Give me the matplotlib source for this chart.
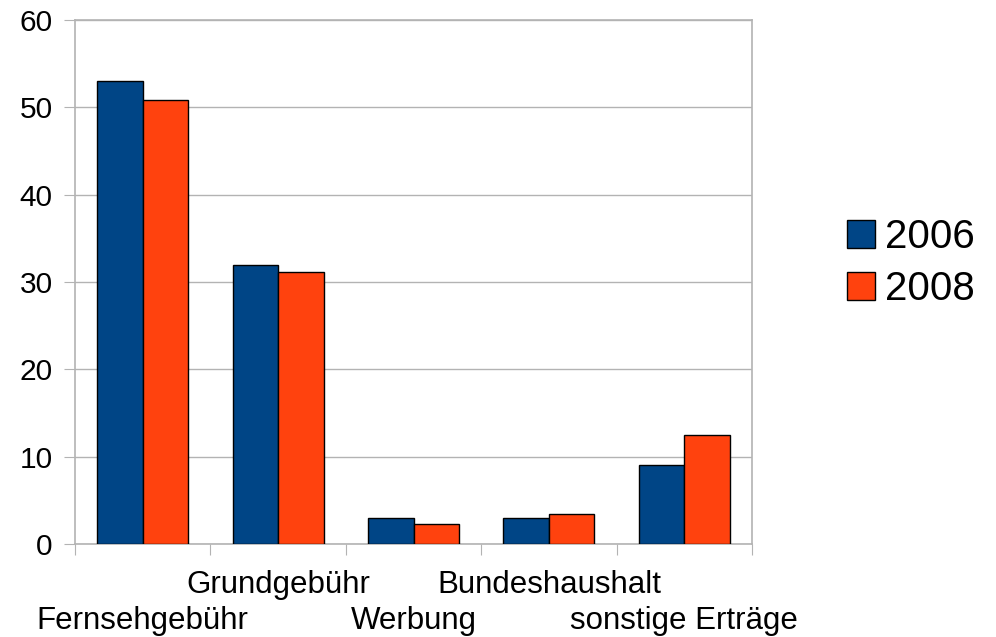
import numpy as np
import matplotlib
matplotlib.use("Agg")
import matplotlib.pyplot as plt
from matplotlib.patches import Patch

plt.rcParams['font.family'] = ['Liberation Sans', 'DejaVu Sans']

categories = ['Fernsehgebühr', 'Grundgebühr', 'Werbung', 'Bundeshaushalt', 'sonstige Erträge']
values_2006 = [53.0, 32.0, 3.0, 3.0, 9.0]
values_2008 = [50.8, 31.1, 2.3, 3.4, 12.5]
years = ['2006', '2008']
colors = ['#004586', '#ff420e']
yticks = [0, 10, 20, 30, 40, 50, 60]

fig = plt.figure(figsize=(9.96, 6.37), dpi=100)
ax = fig.add_axes([75 / 996, 93 / 637, 677 / 996, 524 / 637])

x = np.arange(len(categories))
w = 0.336
ax.bar(x - w / 2, values_2006, w, color=colors[0], edgecolor='black', linewidth=1, zorder=3)
ax.bar(x + w / 2, values_2008, w, color=colors[1], edgecolor='black', linewidth=1, zorder=3)

ax.set_xlim(-0.5, len(categories) - 0.5)
ax.set_ylim(0, 60)
ax.set_yticks(yticks)
ax.set_yticklabels([str(t) for t in yticks], fontsize=21.5)
ax.yaxis.grid(True, color='#b3b3b3', linewidth=1, zorder=0)
ax.tick_params(axis='y', length=8, color='#b3b3b3', pad=8)

# category boundary ticks
ax.set_xticks(np.arange(len(categories) + 1) - 0.5)
ax.set_xticklabels([])
ax.tick_params(axis='x', length=8, color='#b3b3b3', direction='out')

# staggered category labels (two rows)
for i, c in enumerate(categories):
    ypos = -0.0935 if i % 2 else -0.162
    ax.text(i, ypos, c, transform=ax.get_xaxis_transform(), ha='center',
            va='baseline', fontsize=22.5)

for side in ['top', 'bottom', 'left', 'right']:
    ax.spines[side].set_color('#b3b3b3')
    ax.spines[side].set_linewidth(1.2)

handles = [Patch(facecolor=colors[0], edgecolor='black'),
           Patch(facecolor=colors[1], edgecolor='black')]
fig.legend(handles, years, loc='center left', bbox_to_anchor=(847 / 996, 1 - 263 / 637),
           frameon=False, fontsize=29, handlelength=0.7, handleheight=0.7,
           handletextpad=0.25, labelspacing=0.36, borderpad=0, borderaxespad=0)

fig.savefig('out.png', dpi=100)
